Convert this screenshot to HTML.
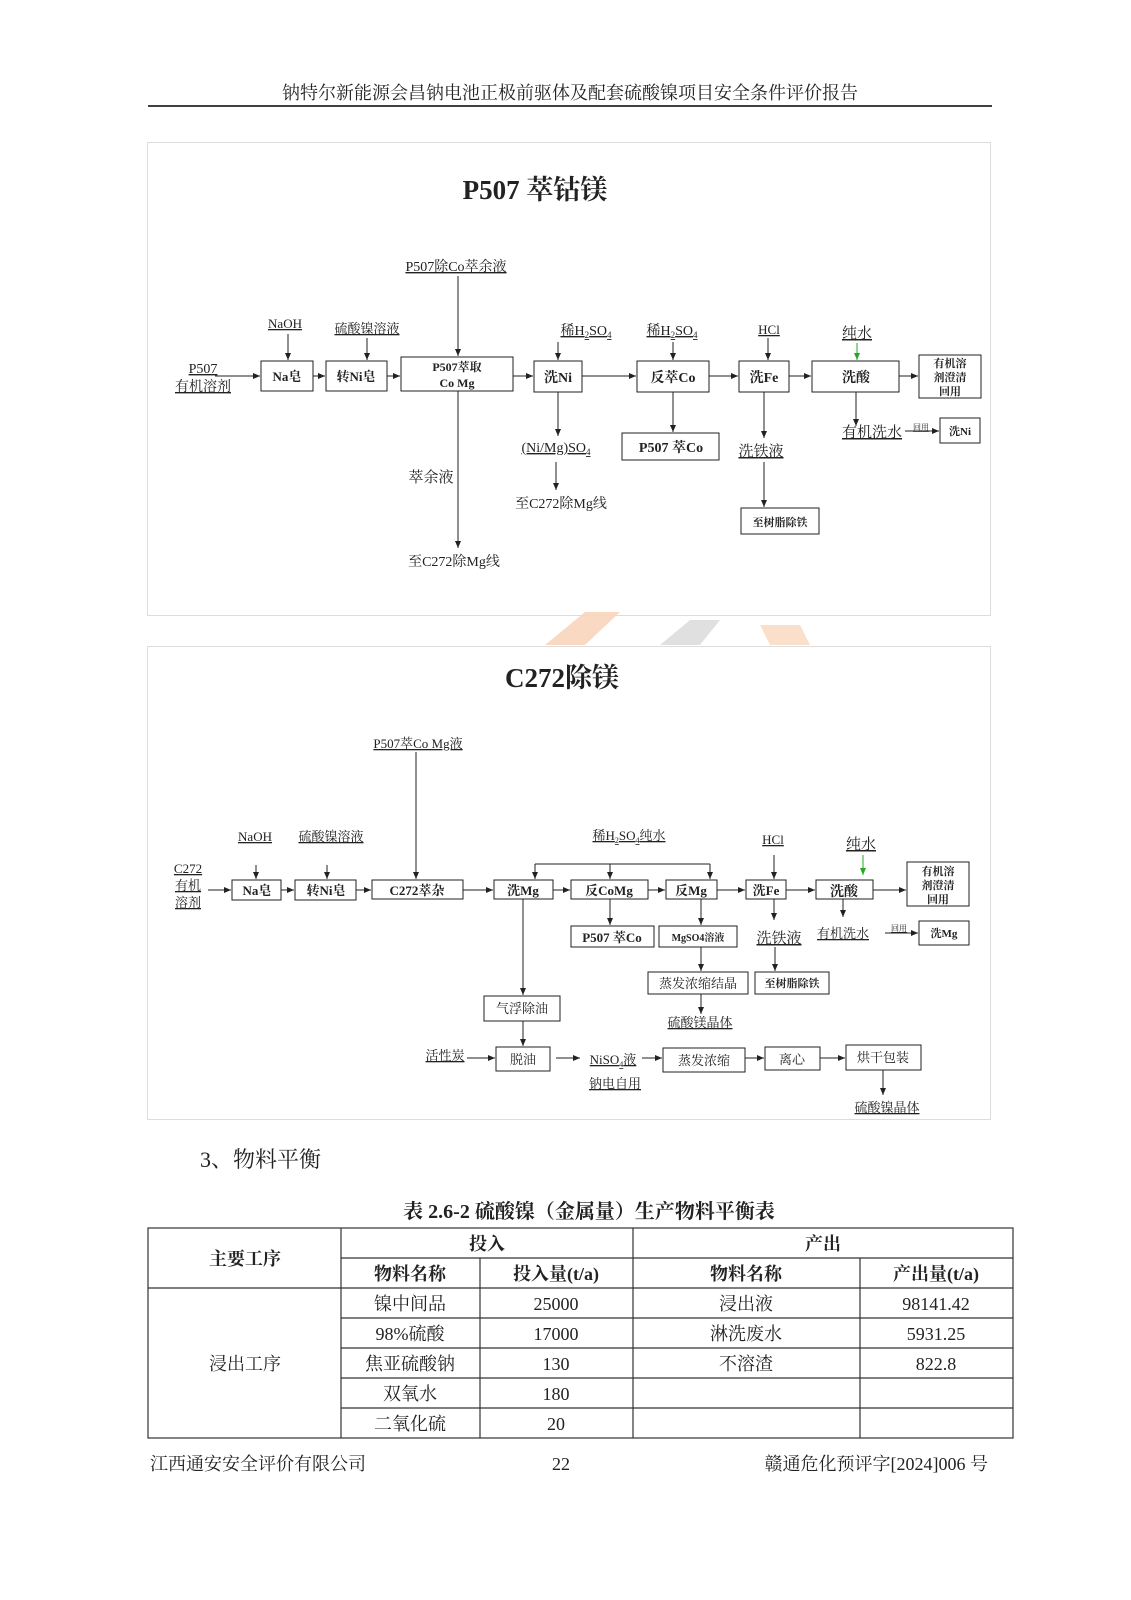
<!DOCTYPE html>
<html><head><meta charset="utf-8"><style>
html,body{margin:0;padding:0;background:#fff;width:1131px;height:1600px;overflow:hidden}
svg{display:block;position:absolute;left:0;top:0}
text{font-family:"Liberation Serif","Noto Serif CJK SC",serif;fill:#222}
.u{text-decoration:underline}
.b{font-weight:bold}
</style></head><body>
<svg width="1131" height="1600" viewBox="0 0 1131 1600" xmlns="http://www.w3.org/2000/svg">
<defs><marker id="a" markerWidth="8" markerHeight="8" refX="7" refY="4" orient="auto" markerUnits="userSpaceOnUse"><path d="M0,1 L7,4 L0,7z" fill="#222"/></marker>
<marker id="g" markerWidth="8" markerHeight="8" refX="7" refY="4" orient="auto" markerUnits="userSpaceOnUse"><path d="M0,1 L7,4 L0,7z" fill="#2a2"/></marker></defs>
<text x="570" y="99" font-size="18" text-anchor="middle">钠特尔新能源会昌钠电池正极前驱体及配套硫酸镍项目安全条件评价报告</text>
<line x1="148" y1="106" x2="992" y2="106" stroke="#000" stroke-width="1.5"/>

<path d="M545,645 L585,612 L620,612 L585,645z" fill="#f7c9a8" opacity="0.7"/>
<path d="M660,645 L690,620 L720,620 L700,645z" fill="#ccc" opacity="0.6"/>
<path d="M760,625 L800,625 L810,645 L770,645z" fill="#f7c9a8" opacity="0.6"/>

<!-- Panel 1 -->
<rect x="147.5" y="142.5" width="843" height="473" fill="none" stroke="#ddd"/>
<text x="535" y="199" font-size="27" class="b" text-anchor="middle">P507 萃钴镁</text>
<g stroke="#222" stroke-width="1" fill="none">
<rect x="261" y="361" width="52" height="30"/><rect x="326" y="361" width="61" height="30"/>
<rect x="401" y="357" width="112" height="34"/><rect x="534" y="361" width="48" height="31"/>
<rect x="637" y="361" width="72" height="31"/><rect x="739" y="361" width="50" height="31"/>
<rect x="812" y="361" width="87" height="31"/><rect x="919" y="355" width="62" height="43"/>
<rect x="940" y="418" width="40" height="25"/><rect x="622" y="433" width="97" height="27"/>
<rect x="741" y="508" width="78" height="26"/>
</g>
<g stroke="#222" stroke-width="1" marker-end="url(#a)">
<line x1="215" y1="376" x2="260" y2="376"/><line x1="313" y1="376" x2="325" y2="376"/>
<line x1="387" y1="376" x2="400" y2="376"/><line x1="513" y1="376" x2="533" y2="376"/>
<line x1="582" y1="376" x2="636" y2="376"/><line x1="709" y1="376" x2="738" y2="376"/>
<line x1="789" y1="376" x2="811" y2="376"/><line x1="899" y1="376" x2="918" y2="376"/>
<line x1="288" y1="334" x2="288" y2="360"/><line x1="367" y1="338" x2="367" y2="360"/>
<line x1="458" y1="276" x2="458" y2="356"/><line x1="458" y1="391" x2="458" y2="548"/>
<line x1="558" y1="342" x2="558" y2="360"/><line x1="673" y1="342" x2="673" y2="360"/>
<line x1="768" y1="338" x2="768" y2="360"/>
<line x1="558" y1="392" x2="558" y2="436"/><line x1="556" y1="462" x2="556" y2="490"/>
<line x1="673" y1="392" x2="673" y2="432"/><line x1="764" y1="392" x2="764" y2="438"/>
<line x1="764" y1="462" x2="764" y2="507"/><line x1="856" y1="392" x2="856" y2="426"/>
<line x1="905" y1="431" x2="939" y2="431"/>
</g>
<line x1="857" y1="343" x2="857" y2="360" stroke="#2a2" marker-end="url(#g)"/>
<g font-size="14">
<text x="456" y="271" text-anchor="middle" class="u">P507除Co萃余液</text>
<text x="285" y="328" text-anchor="middle" class="u" font-size="13">NaOH</text>
<text x="367" y="333" text-anchor="middle" class="u" font-size="13">硫酸镍溶液</text>
<text x="203" y="373" text-anchor="middle" class="u">P507</text>
<text x="203" y="391" text-anchor="middle" class="u">有机溶剂</text>
<text x="586" y="335" text-anchor="middle" class="u">稀H<tspan font-size="9" dy="3">2</tspan><tspan dy="-3">SO</tspan><tspan font-size="9" dy="3">4</tspan></text>
<text x="672" y="335" text-anchor="middle" class="u">稀H<tspan font-size="9" dy="3">2</tspan><tspan dy="-3">SO</tspan><tspan font-size="9" dy="3">4</tspan></text>
<text x="769" y="334" text-anchor="middle" class="u" font-size="13">HCl</text>
<text x="857" y="338" text-anchor="middle" class="u" font-size="15">纯水</text>
<text x="287" y="381" text-anchor="middle" class="b" font-size="13">Na皂</text>
<text x="356" y="381" text-anchor="middle" class="b" font-size="13">转Ni皂</text>
<text x="457" y="371" text-anchor="middle" class="b" font-size="12">P507萃取</text>
<text x="457" y="387" text-anchor="middle" class="b" font-size="12">Co Mg</text>
<text x="558" y="382" text-anchor="middle" class="b" font-size="14">洗Ni</text>
<text x="673" y="382" text-anchor="middle" class="b" font-size="14">反萃Co</text>
<text x="764" y="382" text-anchor="middle" class="b" font-size="14">洗Fe</text>
<text x="856" y="382" text-anchor="middle" class="b" font-size="14">洗酸</text>
<text x="950" y="367" text-anchor="middle" class="b" font-size="11">有机溶</text>
<text x="950" y="381" text-anchor="middle" class="b" font-size="11">剂澄清</text>
<text x="950" y="395" text-anchor="middle" class="b" font-size="11">回用</text>
<text x="960" y="435" text-anchor="middle" class="b" font-size="11">洗Ni</text>
<text x="872" y="437" text-anchor="middle" class="u" font-size="15">有机洗水</text>
<text x="921" y="430" text-anchor="middle" class="u" font-size="8">回用</text>
<text x="556" y="452" text-anchor="middle" class="u">(Ni/Mg)SO<tspan font-size="9" dy="3">4</tspan></text>
<text x="671" y="452" text-anchor="middle" class="b" font-size="14">P507 萃Co</text>
<text x="761" y="456" text-anchor="middle" class="u" font-size="15">洗铁液</text>
<text x="431" y="482" text-anchor="middle" font-size="15">萃余液</text>
<text x="561" y="508" text-anchor="middle">至C272除Mg线</text>
<text x="454" y="566" text-anchor="middle">至C272除Mg线</text>
<text x="780" y="526" text-anchor="middle" class="b" font-size="11">至树脂除铁</text>
</g>

<!-- Panel 2 -->
<rect x="147.5" y="646.5" width="843" height="473" fill="none" stroke="#ddd"/>
<text x="562" y="687" font-size="27" class="b" text-anchor="middle">C272除镁</text>
<g stroke="#222" stroke-width="1" fill="none">
<rect x="232" y="880" width="49" height="20"/><rect x="295" y="880" width="61" height="20"/>
<rect x="372" y="880" width="91" height="19"/><rect x="494" y="880" width="59" height="19"/>
<rect x="571" y="880" width="77" height="19"/><rect x="666" y="880" width="51" height="19"/>
<rect x="746" y="880" width="40" height="19"/><rect x="816" y="880" width="57" height="19"/>
<rect x="907" y="862" width="62" height="44"/><rect x="919" y="921" width="50" height="24"/>
<rect x="571" y="926" width="83" height="21"/><rect x="659" y="926" width="78" height="21"/>
<rect x="648" y="972" width="100" height="22"/><rect x="755" y="972" width="74" height="22"/>
<rect x="484" y="996" width="76" height="25"/><rect x="496" y="1047" width="54" height="24"/>
<rect x="663" y="1048" width="82" height="24"/><rect x="765" y="1047" width="55" height="23"/>
<rect x="846" y="1045" width="75" height="25"/>
</g>
<g stroke="#222" stroke-width="1" marker-end="url(#a)">
<line x1="208" y1="890" x2="231" y2="890"/><line x1="281" y1="890" x2="294" y2="890"/>
<line x1="356" y1="890" x2="371" y2="890"/><line x1="463" y1="890" x2="493" y2="890"/>
<line x1="553" y1="890" x2="570" y2="890"/><line x1="648" y1="890" x2="665" y2="890"/>
<line x1="717" y1="890" x2="745" y2="890"/><line x1="786" y1="890" x2="815" y2="890"/>
<line x1="873" y1="890" x2="906" y2="890"/>
<line x1="256" y1="865" x2="256" y2="879"/><line x1="327" y1="865" x2="327" y2="879"/>
<line x1="416" y1="752" x2="416" y2="879"/>
<line x1="535" y1="864" x2="535" y2="879"/><line x1="610" y1="864" x2="610" y2="879"/>
<line x1="710" y1="864" x2="710" y2="879"/><line x1="774" y1="855" x2="774" y2="879"/>
<line x1="610" y1="899" x2="610" y2="925"/><line x1="701" y1="899" x2="701" y2="925"/>
<line x1="774" y1="899" x2="774" y2="920"/><line x1="775" y1="947" x2="775" y2="971"/>
<line x1="701" y1="947" x2="701" y2="971"/><line x1="701" y1="994" x2="701" y2="1014"/>
<line x1="843" y1="899" x2="843" y2="917"/><line x1="885" y1="933" x2="918" y2="933"/>
<line x1="523" y1="899" x2="523" y2="995"/><line x1="523" y1="1021" x2="523" y2="1046"/>
<line x1="467" y1="1058" x2="495" y2="1058"/><line x1="556" y1="1058" x2="580" y2="1058"/>
<line x1="642" y1="1058" x2="662" y2="1058"/><line x1="745" y1="1058" x2="764" y2="1058"/>
<line x1="820" y1="1058" x2="845" y2="1058"/><line x1="883" y1="1070" x2="883" y2="1095"/>
</g>
<line x1="535" y1="864" x2="710" y2="864" stroke="#222"/>
<line x1="863" y1="855" x2="863" y2="875" stroke="#2a2" marker-end="url(#g)"/>
<g font-size="13">
<text x="418" y="748" text-anchor="middle" class="u">P507萃Co Mg液</text>
<text x="255" y="841" text-anchor="middle" class="u">NaOH</text>
<text x="331" y="841" text-anchor="middle" class="u">硫酸镍溶液</text>
<text x="188" y="873" text-anchor="middle" class="u">C272</text>
<text x="188" y="890" text-anchor="middle" class="u">有机</text>
<text x="188" y="907" text-anchor="middle" class="u">溶剂</text>
<text x="629" y="840" text-anchor="middle" class="u">稀H<tspan font-size="8" dy="3">2</tspan><tspan dy="-3">SO</tspan><tspan font-size="8" dy="3">4</tspan><tspan dy="-3">纯水</tspan></text>
<text x="773" y="844" text-anchor="middle" class="u">HCl</text>
<text x="861" y="849" text-anchor="middle" class="u" font-size="15">纯水</text>
<text x="257" y="895" text-anchor="middle" class="b">Na皂</text>
<text x="326" y="895" text-anchor="middle" class="b">转Ni皂</text>
<text x="417" y="895" text-anchor="middle" class="b">C272萃杂</text>
<text x="523" y="895" text-anchor="middle" class="b">洗Mg</text>
<text x="609" y="895" text-anchor="middle" class="b">反CoMg</text>
<text x="691" y="895" text-anchor="middle" class="b">反Mg</text>
<text x="766" y="895" text-anchor="middle" class="b">洗Fe</text>
<text x="844" y="896" text-anchor="middle" class="b" font-size="14">洗酸</text>
<text x="938" y="875" text-anchor="middle" class="b" font-size="11">有机溶</text>
<text x="938" y="889" text-anchor="middle" class="b" font-size="11">剂澄清</text>
<text x="938" y="903" text-anchor="middle" class="b" font-size="11">回用</text>
<text x="944" y="937" text-anchor="middle" class="b" font-size="11">洗Mg</text>
<text x="843" y="938" text-anchor="middle" class="u">有机洗水</text>
<text x="899" y="931" text-anchor="middle" class="u" font-size="8">回用</text>
<text x="612" y="942" text-anchor="middle" class="b">P507 萃Co</text>
<text x="698" y="941" text-anchor="middle" class="b" font-size="10">MgSO4溶液</text>
<text x="779" y="943" text-anchor="middle" class="u" font-size="15">洗铁液</text>
<text x="698" y="988" text-anchor="middle">蒸发浓缩结晶</text>
<text x="792" y="987" text-anchor="middle" class="b" font-size="11">至树脂除铁</text>
<text x="700" y="1027" text-anchor="middle" class="u">硫酸镁晶体</text>
<text x="522" y="1013" text-anchor="middle">气浮除油</text>
<text x="523" y="1064" text-anchor="middle">脱油</text>
<text x="445" y="1060" text-anchor="middle" class="u">活性炭</text>
<text x="613" y="1064" text-anchor="middle" class="u">NiSO<tspan font-size="8" dy="3">4</tspan><tspan dy="-3">液</tspan></text>
<text x="615" y="1088" text-anchor="middle" class="u">钠电自用</text>
<text x="704" y="1065" text-anchor="middle">蒸发浓缩</text>
<text x="792" y="1064" text-anchor="middle">离心</text>
<text x="883" y="1062" text-anchor="middle">烘干包装</text>
<text x="887" y="1112" text-anchor="middle" class="u">硫酸镍晶体</text>
</g>

<text x="200" y="1167" font-size="22">3、物料平衡</text>
<text x="589" y="1218" font-size="20" text-anchor="middle" class="b">表 2.6-2  硫酸镍（金属量）生产物料平衡表</text>
<g stroke="#333" stroke-width="1.2" fill="none">
<rect x="148" y="1228" width="865" height="210"/>
<line x1="341" y1="1228" x2="341" y2="1438"/><line x1="633" y1="1228" x2="633" y2="1438"/>
<line x1="480" y1="1258" x2="480" y2="1438"/><line x1="860" y1="1258" x2="860" y2="1438"/>
<line x1="341" y1="1258" x2="1013" y2="1258"/><line x1="148" y1="1288" x2="1013" y2="1288"/>
<line x1="341" y1="1318" x2="1013" y2="1318"/><line x1="341" y1="1348" x2="1013" y2="1348"/>
<line x1="341" y1="1378" x2="1013" y2="1378"/><line x1="341" y1="1408" x2="1013" y2="1408"/>
</g>
<g font-size="18" text-anchor="middle">
<text x="245" y="1265" class="b">主要工序</text>
<text x="487" y="1250" class="b">投入</text><text x="823" y="1250" class="b">产出</text>
<text x="410" y="1280" class="b">物料名称</text><text x="556" y="1280" class="b">投入量(t/a)</text>
<text x="746" y="1280" class="b">物料名称</text><text x="936" y="1280" class="b">产出量(t/a)</text>
<text x="245" y="1370">浸出工序</text>
<text x="410" y="1310">镍中间品</text><text x="556" y="1310">25000</text><text x="746" y="1310">浸出液</text><text x="936" y="1310">98141.42</text>
<text x="410" y="1340">98%硫酸</text><text x="556" y="1340">17000</text><text x="746" y="1340">淋洗废水</text><text x="936" y="1340">5931.25</text>
<text x="410" y="1370">焦亚硫酸钠</text><text x="556" y="1370">130</text><text x="746" y="1370">不溶渣</text><text x="936" y="1370">822.8</text>
<text x="410" y="1400">双氧水</text><text x="556" y="1400">180</text>
<text x="410" y="1430">二氧化硫</text><text x="556" y="1430">20</text>
</g>
<text x="150" y="1470" font-size="18">江西通安安全评价有限公司</text>
<text x="561" y="1470" font-size="18" text-anchor="middle">22</text>
<text x="988" y="1470" font-size="18" text-anchor="end">赣通危化预评字[2024]006 号</text>
</svg>
</body></html>
